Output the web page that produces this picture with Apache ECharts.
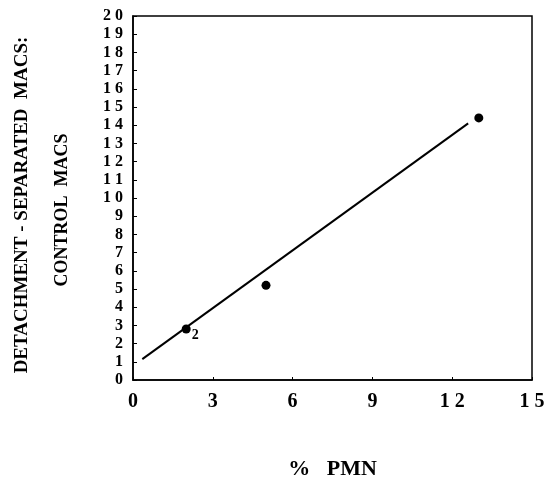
<!DOCTYPE html>
<html>
<head>
<meta charset="utf-8">
<script src="https://cdn.jsdelivr.net/npm/echarts@6/dist/echarts.min.js"></script>
<style>
  html, body { margin: 0; padding: 0; background: #fff; }
  #main { width: 545px; height: 481px; }
</style>
</head>
<body>
<div id="main"></div>
<script>
// data
var pmn = [2, 5, 13];
var ratio = [2.8, 5.2, 14.4];
var pointTags = ['2', '', ''];
var fitX = [0.35, 12.6];
var fitY = [1.15, 14.1];

var serif = '"Liberation Serif", "DejaVu Serif", serif';
var spaced = function (v) { return String(v).split('').join(' '); };

var myChart = echarts.init(document.getElementById('main'));

var option = {
    backgroundColor: '#fff',
    animation: false,
    grid: {
        left: 133, right: 13, top: 16, bottom: 101,
        outerBoundsMode: 'none',
        show: true, borderColor: '#000', borderWidth: 1.5
    },
    xAxis: {
        type: 'value',
        min: 0, max: 15, interval: 3,
        name: '%   PMN',
        nameLocation: 'middle',
        nameGap: 78,
        nameTextStyle: { fontFamily: serif, fontWeight: 'bold', fontSize: 22, color: '#000' },
        axisLine: { lineStyle: { color: '#000', width: 1.5 } },
        axisTick: { inside: true, length: 3, lineStyle: { color: '#000' } },
        axisLabel: {
            margin: 12, formatter: spaced,
            fontFamily: serif, fontWeight: 'bold', fontSize: 20, color: '#000'
        },
        splitLine: { show: false }
    },
    yAxis: {
        type: 'value',
        min: 0, max: 20, interval: 1,
        axisLine: { lineStyle: { color: '#000', width: 1.5 } },
        axisTick: { inside: true, length: 4, lineStyle: { color: '#000' } },
        axisLabel: {
            margin: 10, formatter: spaced,
            fontFamily: serif, fontWeight: 'bold', fontSize: 16, color: '#000'
        },
        splitLine: { show: false }
    },
    graphic: [
        {
            type: 'text', x: 22, y: 205, rotation: Math.PI / 2,
            style: {
                text: 'DETACHMENT - SEPARATED  MACS:',
                font: 'bold 19px ' + serif, fill: '#000',
                textAlign: 'center', textVerticalAlign: 'middle'
            }
        },
        {
            type: 'text', x: 62, y: 210, rotation: Math.PI / 2,
            style: {
                text: 'CONTROL  MACS',
                font: 'bold 18px ' + serif, fill: '#000',
                textAlign: 'center', textVerticalAlign: 'middle'
            }
        }
    ],
    series: [
        {
            type: 'line',
            data: fitX.map(function (x, i) { return [x, fitY[i]]; }),
            symbol: 'none',
            lineStyle: { color: '#000', width: 2 }
        },
        {
            type: 'scatter',
            data: pmn.map(function (x, i) { return [x, ratio[i]]; }),
            symbolSize: 9,
            itemStyle: { color: '#000', opacity: 1 },
            label: {
                show: true, position: [10, 4],
                formatter: function (p) { return pointTags[p.dataIndex]; },
                fontFamily: serif, fontWeight: 'bold', fontSize: 14, color: '#000'
            }
        }
    ]
};

myChart.setOption(option);
</script>
</body>
</html>
